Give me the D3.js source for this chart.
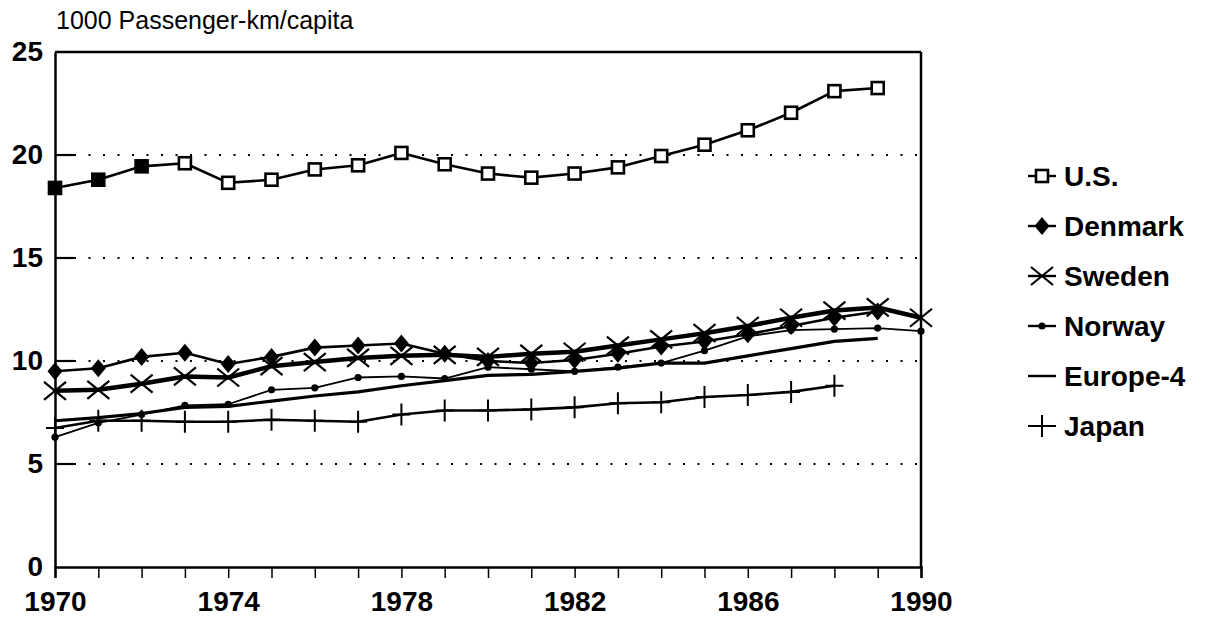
<!DOCTYPE html>
<html>
<head>
<meta charset="utf-8">
<script src="https://cdn.jsdelivr.net/npm/d3@7"></script>
<style>
  body { margin: 0; background: #fff; }
  svg { display: block; }
  text { font-family: "Liberation Sans", Arial, Helvetica, sans-serif; fill: #000; }
</style>
</head>
<body>
<svg id="chart" width="1208" height="619"></svg>
<script>
// Passenger travel per capita, thousand passenger-km, 1970-1990
const years = [1970, 1971, 1972, 1973, 1974, 1975, 1976, 1977, 1978, 1979, 1980,
               1981, 1982, 1983, 1984, 1985, 1986, 1987, 1988, 1989, 1990];
const yTicks = [0, 5, 10, 15, 20, 25];
const xLabels = [1970, 1974, 1978, 1982, 1986, 1990];

// values start at 1970
const usValues      = [18.4, 18.8, 19.45, 19.6, 18.65, 18.8, 19.3, 19.5, 20.1, 19.55, 19.1,
                       18.9, 19.1, 19.4, 19.95, 20.5, 21.2, 22.05, 23.1, 23.25];
const denmarkValues = [9.5, 9.65, 10.2, 10.4, 9.85, 10.2, 10.65, 10.75, 10.85, 10.35, 10.0,
                       9.9, 10.05, 10.35, 10.7, 10.95, 11.3, 11.7, 12.1, 12.4];
const swedenValues  = [8.55, 8.6, 8.9, 9.25, 9.2, 9.75, 9.95, 10.15, 10.25, 10.3, 10.2,
                       10.35, 10.45, 10.75, 11.05, 11.35, 11.7, 12.1, 12.45, 12.6, 12.1];
const norwayValues  = [6.3, 7.0, 7.4, 7.85, 7.9, 8.6, 8.7, 9.2, 9.25, 9.15, 9.7,
                       9.6, 9.5, 9.7, 9.9, 10.5, 11.2, 11.5, 11.55, 11.6, 11.45];
const europeValues  = [7.1, 7.25, 7.45, 7.75, 7.8, 8.05, 8.3, 8.5, 8.8, 9.05, 9.3,
                       9.35, 9.5, 9.65, 9.9, 9.9, 10.25, 10.6, 10.95, 11.1];
const japanValues   = [6.75, 7.1, 7.1, 7.05, 7.05, 7.15, 7.1, 7.05, 7.4, 7.6, 7.6,
                       7.65, 7.75, 7.95, 8.0, 8.25, 8.35, 8.5, 8.8];

const svg = d3.select("#chart");
const x = d3.scaleLinear().domain([1970, 1990]).range([55, 921]);
const y = d3.scaleLinear().domain([0, 25]).range([567, 52]);

const pts = vals => vals.map((v, i) => [years[i], v]);
const line = d3.line().x(d => x(d[0])).y(d => y(d[1]));
const labelFont = "\"Liberation Sans\", Arial, sans-serif";

// title
svg.append("text").attr("x", 56).attr("y", 29)
  .style("font-size", "25px").text("1000  Passenger-km/capita");

// dotted gridlines with short solid inner ticks
const grid = svg.append("g");
yTicks.filter(t => t > 0 && t < 25).forEach(t => {
  grid.append("line").attr("x1", 74).attr("x2", 921).attr("y1", y(t)).attr("y2", y(t))
    .attr("stroke", "#000").attr("stroke-width", 2.2)
    .attr("stroke-dasharray", "2,12.5");
  grid.append("line").attr("x1", 55).attr("x2", 74).attr("y1", y(t)).attr("y2", y(t))
    .attr("stroke", "#000").attr("stroke-width", 2.2);
});

// frame: top and right edges
svg.append("line").attr("x1", x(1970)).attr("x2", x(1990)).attr("y1", y(25)).attr("y2", y(25))
  .attr("stroke", "#000").attr("stroke-width", 2.5);
svg.append("line").attr("x1", x(1990)).attr("x2", x(1990)).attr("y1", y(25)).attr("y2", y(0))
  .attr("stroke", "#000").attr("stroke-width", 2.5);

// y axis
const yAxis = svg.append("g").attr("transform", `translate(${x(1970)},0)`)
  .call(d3.axisLeft(y).tickValues(yTicks).tickSize(0).tickPadding(12).tickFormat(d3.format("d")));
yAxis.select(".domain").attr("stroke-width", 2.5);
yAxis.selectAll("text").style("font-size", "28px").style("font-weight", "bold")
  .style("font-family", labelFont);

// x axis
const xAxis = svg.append("g").attr("transform", `translate(0,${y(0)})`)
  .call(d3.axisBottom(x).tickValues(years).tickSize(11).tickPadding(13)
    .tickFormat(d => xLabels.includes(d) ? String(d) : ""));
xAxis.select(".domain").attr("stroke-width", 2.5);
xAxis.selectAll(".tick line").attr("stroke-width", 1.5);
xAxis.selectAll("text").style("font-size", "28px").style("font-weight", "bold")
  .style("font-family", labelFont);

// marker painters
const markers = {
  square: (g, filled) => g.append("rect").attr("x", -6).attr("y", -6).attr("width", 12).attr("height", 12)
    .attr("fill", filled ? "#000" : "#fff").attr("stroke", "#000").attr("stroke-width", 2.6),
  diamond: g => g.append("path").attr("d", "M0,-9L7.5,0L0,9L-7.5,0Z").attr("fill", "#000"),
  cross: g => g.append("path").attr("d", "M-11,-9L11,9M-11,9L11,-9")
    .attr("stroke", "#000").attr("stroke-width", 2.2).attr("fill", "none"),
  dot: g => g.append("circle").attr("r", 3.6).attr("fill", "#000"),
  plus: g => g.append("path").attr("d", "M0,-11V11M-9,0H9")
    .attr("stroke", "#000").attr("stroke-width", 2).attr("fill", "none"),
  none: () => {}
};

const series = [
  { name: "U.S.",     values: usValues,      width: 2.6, marker: "square" },
  { name: "Denmark",  values: denmarkValues, width: 2.6, marker: "diamond" },
  { name: "Sweden",   values: swedenValues,  width: 4.5, marker: "cross" },
  { name: "Norway",   values: norwayValues,  width: 1.8, marker: "dot" },
  { name: "Europe-4", values: europeValues,  width: 3.2, marker: "none" },
  { name: "Japan",    values: japanValues,   width: 2.6, marker: "plus" }
];

const plot = svg.append("g");
series.forEach(s => {
  plot.append("path").datum(pts(s.values)).attr("d", line)
    .attr("fill", "none").attr("stroke", "#000").attr("stroke-width", s.width)
    .attr("stroke-linejoin", "round");
});
series.forEach(s => {
  pts(s.values).forEach((p, i) => {
    const g = plot.append("g").attr("transform", `translate(${x(p[0])},${y(p[1])})`);
    markers[s.marker](g, s.marker === "square" && i < 3);
  });
});

// legend
const legendTop = 176, legendStep = 50;
series.forEach((s, i) => {
  const g = svg.append("g").attr("transform", `translate(1042,${legendTop + i * legendStep})`);
  if (s.marker === "plus") {
    g.append("path").attr("d", "M0,-11V11M-14,0H14")
      .attr("stroke", "#000").attr("stroke-width", 2).attr("fill", "none");
  } else {
    g.append("line").attr("x1", -14).attr("x2", 14).attr("y1", 0).attr("y2", 0)
      .attr("stroke", "#000").attr("stroke-width", 2.4);
    markers[s.marker](g, false);
  }
  g.append("text").attr("x", 22).attr("y", 10).style("font-size", "28px").style("font-weight", "bold")
    .text(s.name);
});
</script>
</body>
</html>
